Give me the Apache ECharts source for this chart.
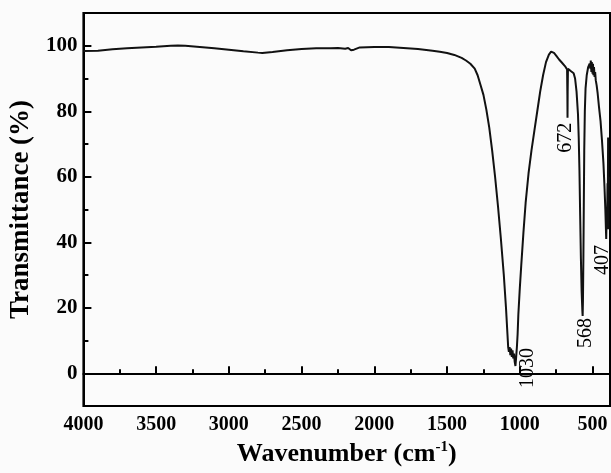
<!DOCTYPE html>
<html>
<head>
<meta charset="utf-8">
<script src="https://cdn.jsdelivr.net/npm/echarts@6/dist/echarts.min.js"></script>
<style>
html,body{margin:0;padding:0;background:#fbfbfb;}
#chart{width:611px;height:473px;}
</style>
</head>
<body>
<div id="chart"></div>
<script>
// Wavenumber (cm-1) and transmittance (%)
const wavenumber = [4000,3900,3800,3700,3600,3500,3400,3350,3300,3200,3100,3000,2900,2800,2770,2700,2600,2500,2400,2300,2250,2200,2180,2160,2140,2100,2000,1900,1800,1700,1600,1550,1500,1450,1400,1370,1340,1310,1290,1270,1250,1230,1210,1190,1170,1150,1130,1110,1095,1085,1080,1075,1070,1065,1060,1055,1050,1045,1040,1035,1030,1025,1020,1015,1010,1000,990,975,960,940,920,900,880,860,840,820,800,785,775,765,750,740,730,720,710,700,690,680,675,673,672,671,669,660,650,640,630,620,610,600,595,590,585,580,575,570,568,566,563,560,557,553,548,540,530,520,515,512,508,505,500,497,494,490,486,482,478,472,465,455,445,435,425,418,412,408,406,403,400,397,395,393,391,388];
const transmittance = [98.4,98.5,98.9,99.2,99.5,99.7,100.0,100.1,100.0,99.6,99.2,98.8,98.3,97.9,97.8,98.1,98.6,99.0,99.2,99.2,99.3,99.1,99.3,98.6,98.8,99.5,99.6,99.6,99.3,99.0,98.5,98.2,97.8,97.2,96.3,95.5,94.5,93.0,91.0,88.0,85.0,80.5,75.0,68.0,60.0,51.0,41.0,30.0,20.0,12.0,8.0,6.5,8.0,5.5,7.5,5.0,7.0,4.5,6.0,3.5,2.2,5.0,8.0,12.0,18.0,26.0,33.0,43.0,52.0,61.0,68.0,74.0,80.0,86.0,91.0,95.0,97.3,98.2,98.3,97.8,97.0,96.5,95.8,95.5,94.8,94.5,93.8,93.2,92.8,85.0,78.0,86.0,93.0,92.5,92.3,92.0,91.6,90.0,86.0,79.0,72.0,62.0,48.0,35.0,25.0,19.0,17.5,22.0,35.0,52.0,68.0,80.0,87.0,91.0,93.5,94.5,93.0,95.5,92.0,95.0,91.5,94.5,91.0,93.5,90.5,92.0,89.5,88.0,85.5,81.0,77.0,71.0,64.0,57.0,50.0,44.0,41.0,48.0,45.0,58.0,52.0,72.0,44.0,60.0];

// Axis tick labels
const xMajorTicks = [500,1000,1500,2000,2500,3000,3500,4000];
const xMinorTicks = [750,1250,1750,2250,2750,3250,3750];
const yMajorTicks = [0,20,40,60,80,100];
const yMinorTicks = [10,30,50,70,90];

// Peak annotations
const peakWavenumbers = [1030, 672, 568, 407];
const peakValues = [2.2, 78, 17.5, 41];
// screen offsets [dx, dy] of each label's top end from its peak point
const peakLabelShift = [[12,-18],[-2,5],[3,2],[-3,6]];

const spectrum = wavenumber.map((w,i)=>[w, transmittance[i]]);

const serif = '"Liberation Serif","Times New Roman",serif';
const X_MIN = 380, X_MAX = 4000, Y_MIN = -10, Y_MAX = 110;

const chart = echarts.init(document.getElementById('chart'), null, {renderer:'canvas'});
chart.setOption({
  animation:false,
  backgroundColor:'#fbfbfb',
  grid:{left:82, right:1, top:13, bottom:67, show:true, borderColor:'#000', borderWidth:2, backgroundColor:'transparent'},
  xAxis:[{
    type:'value', min:X_MIN, max:X_MAX, inverse:true, position:'bottom',
    splitLine:{show:false},
    axisLine:{show:true, lineStyle:{color:'#000', width:2}},
    axisTick:{show:true, inside:true, length:7, customValues:xMajorTicks, lineStyle:{color:'#000', width:2}},
    axisLabel:{show:true, customValues:xMajorTicks, formatter:v=>String(v), color:'#000', fontFamily:serif, fontWeight:'bold', fontSize:20, margin:9},
    name:'Wavenumber (cm{sup|-1})', nameLocation:'middle', nameGap:31,
    nameTextStyle:{color:'#000', fontFamily:serif, fontWeight:'bold', fontSize:26,
      rich:{sup:{fontFamily:serif, fontWeight:'bold', fontSize:15, color:'#000', padding:[0,0,14,0]}}}
  },{
    type:'value', min:X_MIN, max:X_MAX, inverse:true, position:'bottom',
    splitLine:{show:false}, axisLine:{show:false}, axisLabel:{show:false},
    axisTick:{show:true, inside:true, length:4, customValues:xMinorTicks, lineStyle:{color:'#000', width:2}}
  }],
  yAxis:[{
    type:'value', min:Y_MIN, max:Y_MAX, interval:10, position:'left',
    splitLine:{show:false},
    axisLine:{show:true, lineStyle:{color:'#000', width:2}},
    axisTick:{show:true, inside:true, length:8, customValues:yMajorTicks, lineStyle:{color:'#000', width:2}},
    axisLabel:{show:true, customValues:yMajorTicks, formatter:v=>String(v), color:'#000', fontFamily:serif, fontWeight:'bold', fontSize:21, margin:6},
    name:'Transmittance (%)', nameLocation:'middle', nameGap:45, nameRotate:90,
    nameTextStyle:{color:'#000', fontFamily:serif, fontWeight:'bold', fontSize:27}
  },{
    type:'value', min:Y_MIN, max:Y_MAX, interval:10, position:'left',
    splitLine:{show:false}, axisLine:{show:false}, axisLabel:{show:false},
    axisTick:{show:true, inside:true, length:5, customValues:yMinorTicks, lineStyle:{color:'#000', width:2}}
  }],
  series:[{
    type:'line', xAxisIndex:0, yAxisIndex:0,
    data:spectrum, showSymbol:false, symbol:'none',
    lineStyle:{color:'#111', width:2},
    markPoint:{
      symbol:'circle', symbolSize:0,
      data: peakWavenumbers.map((w,i)=>({
        coord:[w, peakValues[i]],
        label:{show:true, formatter:String(w), position:'inside',
          // offset is applied in the rotated frame: local = [-dy, dx]
          offset:[-peakLabelShift[i][1], peakLabelShift[i][0]],
          rotate:90, align:'right', verticalAlign:'middle',
          color:'#000', fontFamily:serif, fontSize:20}
      }))
    }
  }]
});
</script>
</body>
</html>
